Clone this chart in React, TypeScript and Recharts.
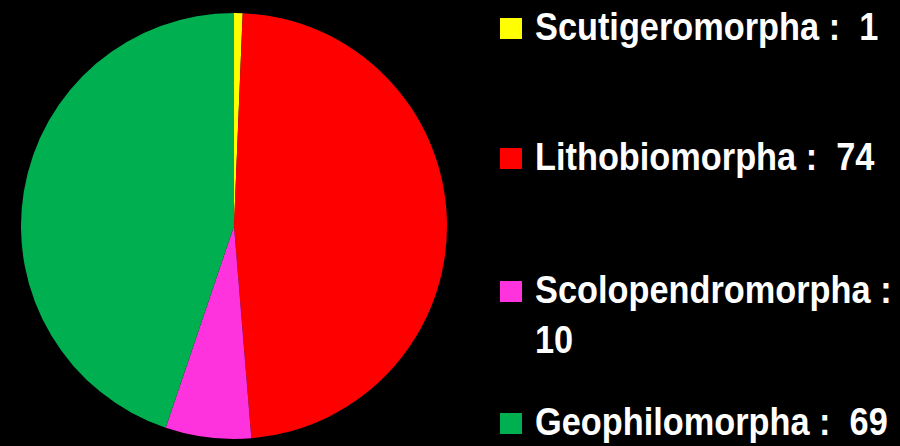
import React from "react";
import { PieChart, Pie, Cell, Legend } from "recharts";

const categories = ["Scutigeromorpha", "Lithobiomorpha", "Scolopendromorpha", "Geophilomorpha"];
const values = [1, 74, 10, 69];
const colors = ["#FFFF00", "#FF0000", "#FF33DD", "#00B050"];

const data = categories.map((name, i) => ({ name, value: values[i] }));

const rowTops = [1.5, 131.5, 264.5, 396.5];
const SCALE_X = 0.88;

const LegendContent = () => (
  <div style={{ position: "relative", width: 400, height: 446 }}>
    {data.map((d, i) => (
      <div key={d.name} style={{ position: "absolute", left: 0, top: rowTops[i], width: 400, height: 100 }}>
        <div
          style={{
            position: "absolute",
            left: 0,
            top: 16.5,
            width: 22,
            height: 21,
            background: colors[i],
          }}
        />
        <div
          style={{
            position: "absolute",
            left: 35,
            top: 0,
            width: 365 / SCALE_X,
            transform: `scaleX(${SCALE_X})`,
            transformOrigin: "0 0",
            fontFamily: "'Liberation Sans', Arial, sans-serif",
            fontWeight: "bold",
            fontSize: 39,
            lineHeight: "50px",
            color: "#fff",
            whiteSpace: "normal",
          }}
        >
          {`${d.name}\u00a0:\u00a0 ${d.value}`}
        </div>
      </div>
    ))}
  </div>
);

export default function App() {
  return (
    <div style={{ position: "absolute", left: 0, top: 0, width: 900, height: 446, background: "#000" }}>
      <PieChart width={900} height={446} margin={{ top: 0, right: 0, bottom: 0, left: 0 }}>
        <Pie
          data={data}
          dataKey="value"
          nameKey="name"
          cx={234}
          cy={226}
          outerRadius={213}
          startAngle={90}
          endAngle={-270}
          stroke="none"
          isAnimationActive={false}
        >
          {data.map((d, i) => (
            <Cell key={d.name} fill={colors[i]} />
          ))}
        </Pie>
        <Legend
          content={<LegendContent />}
          wrapperStyle={{ position: "absolute", left: 500, top: 0, width: 400, height: 446 }}
        />
      </PieChart>
    </div>
  );
}
